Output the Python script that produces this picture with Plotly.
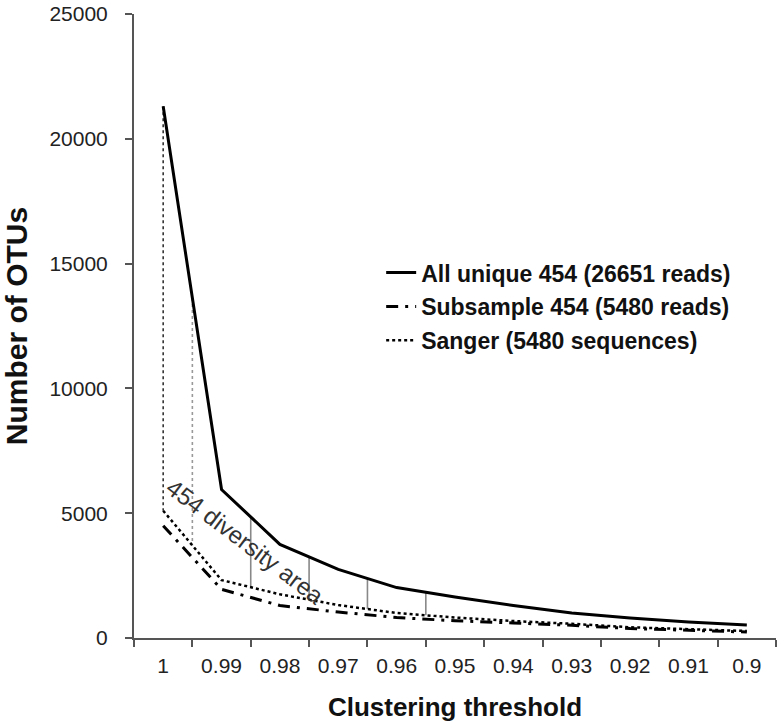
import numpy as np
import plotly.graph_objects as go

# ---- data ----
thresholds = [1.00, 0.99, 0.98, 0.97, 0.96, 0.95, 0.94, 0.93, 0.92, 0.91, 0.90]
all_unique_454 = [21300, 5950, 3750, 2750, 2020, 1640, 1300, 1000, 800, 640, 520]
subsample_454 = [4500, 1950, 1300, 1040, 820, 690, 600, 510, 380, 300, 240]
sanger = [5100, 2320, 1750, 1320, 1000, 820, 680, 570, 430, 350, 280]

# positions of the "454 diversity area" hatch lines (between categories)
hatch_x_edge = [1.00]                         # dark dotted edge of the area
hatch_x_dotted = [0.995]                      # grey dotted hatch
hatch_x_solid = [0.985, 0.975, 0.965, 0.955]  # grey solid hatches

tick_labels = [f"{t:g}" for t in thresholds]
boundaries = [round(t + 0.005, 3) for t in thresholds] + [round(thresholds[-1] - 0.005, 3)]

FONT = "Liberation Sans, Arial, Helvetica, sans-serif"

def interp(xs, series):
    xr = np.array(thresholds)[::-1]
    yr = np.array(series)[::-1]
    return np.interp(xs, xr, yr)

def vlines(xs):
    top = interp(xs, all_unique_454)
    bot = interp(xs, sanger)
    X, Y = [], []
    for x, t, b in zip(xs, top, bot):
        X += [x, x, None]
        Y += [t, b, None]
    return X, Y

fig = go.Figure()

for xs, color, dash in [(hatch_x_edge, "#333333", "dot"),
                        (hatch_x_dotted, "#999999", "dot"),
                        (hatch_x_solid, "#888888", "solid")]:
    X, Y = vlines(xs)
    fig.add_trace(go.Scatter(x=X, y=Y, mode="lines", showlegend=False,
                             line=dict(color=color, width=1.6, dash=dash),
                             hoverinfo="skip"))

fig.add_trace(go.Scatter(x=thresholds, y=all_unique_454, mode="lines",
                         name="All unique 454 (26651 reads)", legendgroup="a",
                         line=dict(color="black", width=3)))
fig.add_trace(go.Scatter(x=thresholds, y=subsample_454, mode="lines",
                         name="Subsample 454 (5480 reads)", legendgroup="b",
                         line=dict(color="black", width=3, dash="12px,7px,3px,7px")))
fig.add_trace(go.Scatter(x=thresholds, y=sanger, mode="lines",
                         name="Sanger (5480 sequences)", legendgroup="c",
                         line=dict(color="black", width=2.5, dash="dot")))

fig.add_annotation(x=0.986, y=3850, xref="x", yref="y", text="454 diversity area",
                   showarrow=False, textangle=37,
                   font=dict(family=FONT, size=24, color="#333333"))

fig.update_layout(
    width=777, height=725,
    margin=dict(l=134, r=1, t=14, b=87),
    paper_bgcolor="white", plot_bgcolor="white",
    font=dict(family=FONT, color="#222222"),
    legend=dict(x=0.385, y=0.62, xanchor="left", yanchor="top",
                bgcolor="rgba(0,0,0,0)", traceorder="grouped", tracegroupgap=1,
                font=dict(family=FONT, size=23, color="#111111", weight="bold")),
    xaxis=dict(range=[1.005, 0.895], tickvals=thresholds, ticktext=tick_labels,
               ticks="", showline=True, linecolor="#555555", linewidth=2,
               showgrid=False, zeroline=False,
               tickfont=dict(family=FONT, size=21, color="#222222"),
               ticklabelstandoff=8,
               minor=dict(tickvals=boundaries, ticks="outside", ticklen=7,
                          tickcolor="#555555", tickwidth=2, showgrid=False),
               title=dict(text="Clustering threshold", standoff=22,
                          font=dict(family=FONT, size=26, color="#111111", weight="bold"))),
    yaxis=dict(range=[0, 25000], tickvals=[0, 5000, 10000, 15000, 20000, 25000],
               tickformat="d", ticks="outside", ticklen=7, tickwidth=2,
               tickcolor="#555555", showline=True, linecolor="#555555", linewidth=2,
               showgrid=False, zeroline=False, ticklabeloverflow="allow",
               tickfont=dict(family=FONT, size=21, color="#222222"),
               ticklabelstandoff=13,
               title=dict(text="Number of OTUs", standoff=21,
                          font=dict(family=FONT, size=30, color="#111111", weight="bold"))),
)

fig.write_html("out.html", config={"displayModeBar": False},
               post_script="document.body.style.margin='0';")
